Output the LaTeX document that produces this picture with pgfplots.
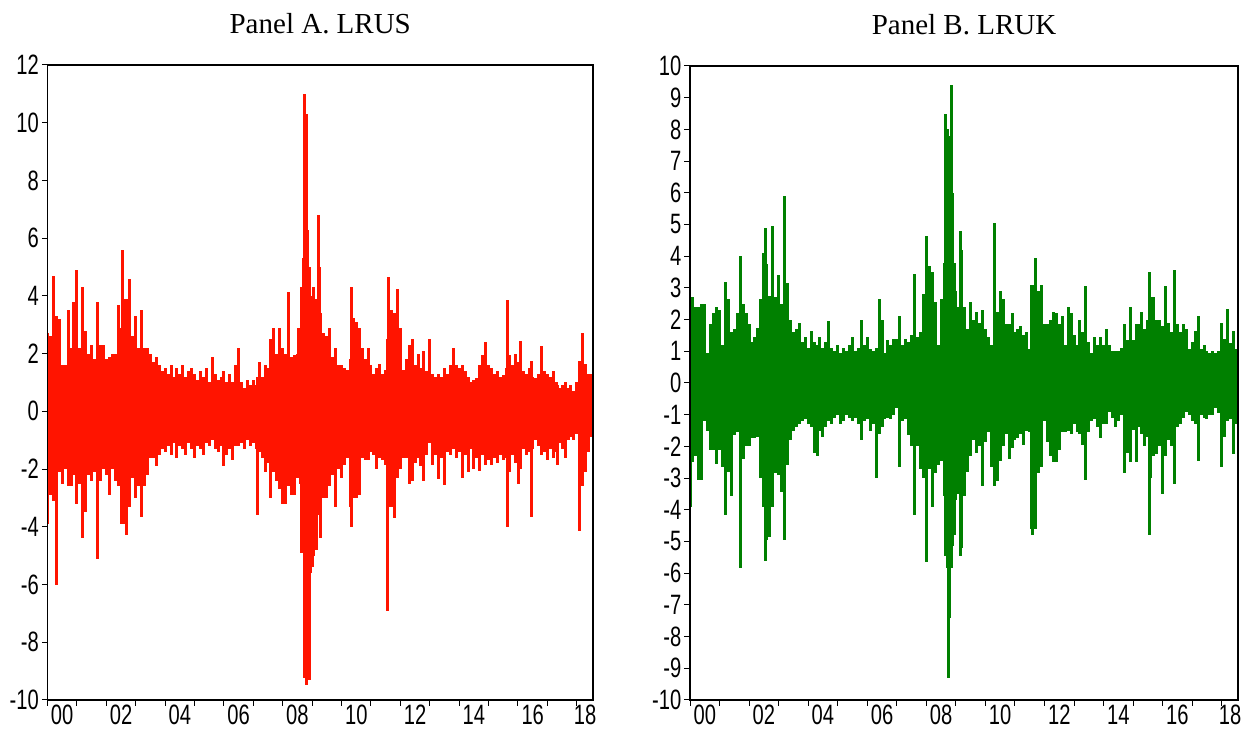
\documentclass[border=0pt]{standalone}
\usepackage{fontspec}
\setmainfont{Liberation Serif}
\setsansfont{Liberation Sans}
\usepackage{pgfplots}
\usepackage{pgfplotstable}
\pgfplotsset{compat=1.18}
\definecolor{usred}{RGB}{255,20,0}
\definecolor{ukgreen}{RGB}{0,128,0}

% daily log returns, drawn as high/low envelope per ~0.1 year
\pgfplotstableread{
x hi lo
2000.0 2.7 -3.9
2000.1 2.6 -2.9
2000.2 4.7 -3.1
2000.3 3.3 -6.0
2000.4 3.2 -2.1
2000.5 1.6 -2.5
2000.6 1.6 -2.0
2000.7 3.5 -2.6
2000.8 2.2 -2.6
2000.9 3.8 -2.2
2001.0 4.9 -3.2
2001.1 2.2 -2.5
2001.2 4.3 -4.4
2001.3 2.8 -3.5
2001.4 2.0 -2.2
2001.5 2.3 -2.4
2001.6 1.8 -2.1
2001.7 3.8 -5.1
2001.8 2.3 -2.4
2001.9 2.3 -2.0
2002.0 1.8 -2.2
2002.1 1.9 -2.9
2002.2 2.0 -2.0
2002.3 2.0 -2.4
2002.4 3.7 -2.6
2002.5 2.9 -3.9
2002.55 5.6 -3.9
2002.6 3.9 -3.9
2002.7 3.9 -4.3
2002.8 4.6 -3.3
2002.9 2.6 -2.3
2003.0 3.3 -3.0
2003.1 2.2 -2.6
2003.2 3.5 -3.65
2003.3 2.2 -2.6
2003.4 2.2 -2.2
2003.5 2.0 -1.6
2003.6 1.7 -1.6
2003.7 1.9 -1.9
2003.8 1.6 -1.5
2003.9 1.4 -1.3
2004.0 1.5 -1.4
2004.1 1.3 -1.2
2004.2 1.6 -1.5
2004.3 1.2 -1.1
2004.4 1.5 -1.6
2004.5 1.3 -1.2
2004.6 1.6 -1.3
2004.7 1.2 -1.5
2004.8 1.4 -1.1
2004.9 1.5 -1.3
2005.0 1.3 -1.6
2005.1 1.1 -1.2
2005.2 1.4 -1.3
2005.3 1.2 -1.5
2005.4 1.5 -1.1
2005.5 1.0 -1.2
2005.6 1.9 -1.0
2005.7 1.3 -1.3
2005.8 1.1 -1.4
2005.9 1.2 -1.2
2006.0 1.4 -1.9
2006.1 1.0 -1.5
2006.2 1.3 -1.3
2006.3 1.0 -1.7
2006.4 1.6 -1.2
2006.5 2.2 -1.2
2006.6 1.0 -1.1
2006.7 0.8 -1.3
2006.8 1.1 -1.0
2006.9 0.9 -1.2
2007.0 1.1 -1.1
2007.1 0.9 -1.3
2007.15 1.2 -3.6
2007.2 1.7 -1.4
2007.3 1.2 -1.6
2007.4 1.6 -2.1
2007.5 1.5 -1.8
2007.6 2.5 -3.0
2007.7 2.9 -2.1
2007.8 2.0 -2.4
2007.9 2.9 -2.7
2008.0 2.2 -3.2
2008.1 2.0 -3.2
2008.2 4.15 -2.6
2008.3 1.9 -2.9
2008.4 1.95 -2.9
2008.5 2.0 -2.3
2008.55 2.9 -2.1
2008.6 2.6 -2.5
2008.65 4.3 -4.9
2008.7 5.3 -3.5
2008.75 11.0 -9.25
2008.8 10.3 -9.47
2008.85 6.3 -6.3
2008.9 5.0 -9.3
2008.95 4.0 -5.6
2009.0 3.6 -5.4
2009.05 4.3 -5.0
2009.1 3.9 -4.2
2009.15 3.3 -4.8
2009.2 6.8 -3.6
2009.25 5.0 -3.2
2009.3 3.4 -4.4
2009.4 2.7 -3.0
2009.5 2.6 -3.0
2009.6 2.9 -2.6
2009.7 1.9 -2.2
2009.8 2.2 -3.3
2009.9 1.6 -2.0
2010.0 1.6 -2.3
2010.1 1.5 -1.85
2010.2 1.45 -1.6
2010.3 1.8 -3.3
2010.35 4.3 -4.0
2010.4 3.25 -3.0
2010.5 3.1 -3.0
2010.6 2.9 -2.9
2010.7 2.2 -1.6
2010.8 1.8 -1.7
2010.9 2.2 -1.7
2011.0 1.6 -1.4
2011.1 1.3 -1.5
2011.2 1.5 -2.0
2011.3 1.65 -1.6
2011.4 1.3 -1.7
2011.5 1.45 -1.85
2011.57 2.5 -6.9
2011.6 4.65 -3.3
2011.7 3.5 -3.3
2011.8 3.4 -3.7
2011.9 4.25 -2.3
2012.0 2.9 -2.0
2012.1 1.45 -1.6
2012.2 1.8 -1.6
2012.3 2.3 -2.5
2012.4 2.5 -2.4
2012.5 1.6 -1.8
2012.6 2.0 -1.6
2012.7 1.5 -1.9
2012.8 2.1 -2.4
2012.9 1.4 -1.5
2013.0 2.5 -1.1
2013.1 1.3 -1.85
2013.2 1.2 -1.5
2013.3 1.3 -2.35
2013.4 1.2 -1.6
2013.5 1.5 -2.55
2013.6 1.3 -1.4
2013.7 1.6 -1.5
2013.8 2.2 -1.3
2013.9 1.6 -1.6
2014.0 1.5 -1.4
2014.1 1.6 -2.3
2014.2 1.4 -1.5
2014.3 1.2 -2.1
2014.4 1.0 -1.3
2014.5 1.1 -2.0
2014.6 1.15 -1.6
2014.7 1.6 -2.05
2014.8 1.95 -1.5
2014.9 2.4 -1.85
2015.0 1.6 -1.7
2015.1 1.5 -1.85
2015.2 1.3 -1.6
2015.3 1.4 -1.8
2015.4 1.2 -1.5
2015.5 1.25 -1.7
2015.6 1.5 -1.6
2015.63 3.85 -4.0
2015.7 1.95 -2.1
2015.8 1.6 -1.5
2015.9 2.0 -1.8
2016.0 1.7 -2.5
2016.1 2.45 -2.0
2016.2 1.4 -1.3
2016.3 1.3 -1.5
2016.4 1.5 -1.4
2016.47 1.75 -3.65
2016.5 1.2 -1.3
2016.6 1.15 -1.0
2016.7 1.3 -1.2
2016.8 2.25 -1.5
2016.9 1.4 -1.4
2017.0 1.3 -1.7
2017.1 1.2 -1.3
2017.2 1.4 -1.6
2017.3 1.0 -1.4
2017.35 0.9 -1.85
2017.4 0.8 -1.1
2017.5 0.9 -1.3
2017.6 1.0 -1.6
2017.7 0.8 -1.0
2017.8 0.9 -0.9
2017.9 0.7 -1.0
2018.0 1.0 -0.8
2018.09 1.75 -4.15
2018.1 1.2 -1.5
2018.2 2.7 -2.6
2018.3 1.65 -2.1
2018.4 1.3 -1.4
2018.5 1.3 -0.9
}\lrus

\pgfplotstableread{
x hi lo
2000.0 2.0 -3.9
2000.1 2.7 -2.5
2000.2 2.4 -2.3
2000.3 2.4 -3.05
2000.4 2.5 -3.05
2000.5 2.5 -1.2
2000.6 0.95 -1.5
2000.7 1.85 -2.1
2000.8 2.2 -2.1
2000.9 2.4 -2.55
2001.0 2.3 -2.1
2001.1 1.2 -2.65
2001.2 3.2 -4.15
2001.3 2.65 -2.8
2001.4 1.6 -3.55
2001.5 1.7 -1.65
2001.6 2.2 -1.55
2001.7 4.0 -5.85
2001.8 2.5 -2.4
2001.9 2.2 -2.0
2002.0 1.85 -2.0
2002.1 1.3 -1.75
2002.2 1.45 -1.75
2002.3 1.75 -1.7
2002.4 2.65 -3.0
2002.5 4.1 -3.9
2002.55 4.9 -5.6
2002.6 3.75 -4.95
2002.7 2.75 -4.85
2002.8 4.95 -3.9
2002.9 2.7 -2.85
2003.0 3.4 -2.9
2003.1 2.5 -3.45
2003.2 5.9 -4.95
2003.3 3.15 -2.6
2003.4 2.0 -1.8
2003.5 1.6 -1.5
2003.6 1.7 -1.4
2003.7 1.9 -1.3
2003.8 1.3 -1.2
2003.9 1.45 -1.15
2004.0 1.1 -1.3
2004.1 1.65 -1.4
2004.2 1.3 -2.2
2004.3 1.2 -2.3
2004.4 1.45 -1.5
2004.5 1.1 -1.7
2004.6 1.3 -1.4
2004.7 1.95 -1.2
2004.8 1.1 -1.3
2004.9 1.0 -1.1
2005.0 1.2 -1.0
2005.1 0.95 -1.3
2005.2 1.1 -1.2
2005.3 1.0 -1.0
2005.4 1.2 -1.1
2005.5 1.45 -1.2
2005.6 1.0 -1.1
2005.7 1.1 -1.3
2005.8 2.0 -1.8
2005.9 1.2 -1.2
2006.0 1.45 -1.15
2006.1 1.07 -1.5
2006.2 1.0 -1.3
2006.3 1.1 -3.0
2006.4 2.65 -1.6
2006.5 2.0 -1.4
2006.6 0.95 -1.15
2006.7 1.35 -1.1
2006.8 1.2 -1.15
2006.9 1.4 -1.0
2007.0 1.4 -0.8
2007.1 2.1 -2.65
2007.2 1.2 -1.2
2007.3 1.4 -1.15
2007.4 1.3 -1.65
2007.5 1.5 -2.0
2007.6 3.45 -4.15
2007.7 1.45 -2.0
2007.8 1.6 -2.7
2007.9 2.8 -3.0
2008.0 4.65 -5.65
2008.1 3.7 -2.7
2008.2 3.5 -3.9
2008.3 2.55 -2.85
2008.4 1.2 -2.6
2008.5 2.65 -2.45
2008.6 3.8 -3.55
2008.65 8.5 -5.45
2008.7 8.0 -5.85
2008.75 7.8 -9.3
2008.8 7.6 -7.4
2008.85 9.4 -5.85
2008.9 6.0 -5.15
2008.95 3.8 -4.8
2009.0 2.9 -3.7
2009.1 2.4 -3.5
2009.15 4.8 -5.45
2009.2 4.2 -5.2
2009.3 2.4 -3.55
2009.4 1.7 -2.8
2009.5 2.55 -2.3
2009.6 2.0 -1.8
2009.7 2.25 -2.2
2009.8 1.9 -2.0
2009.9 2.3 -3.25
2010.0 1.7 -1.85
2010.1 1.45 -1.55
2010.2 1.2 -2.65
2010.3 5.05 -3.25
2010.4 2.25 -3.1
2010.5 2.9 -2.45
2010.6 2.65 -2.0
2010.7 1.85 -1.6
2010.8 1.85 -2.4
2010.9 2.2 -2.05
2011.0 1.6 -1.8
2011.1 1.7 -1.75
2011.2 1.8 -1.6
2011.3 1.5 -1.95
2011.4 1.6 -1.5
2011.5 1.07 -1.55
2011.55 3.1 -4.6
2011.6 3.1 -4.8
2011.7 3.95 -4.6
2011.8 2.9 -2.85
2011.9 3.1 -2.65
2012.0 1.85 -1.2
2012.1 1.85 -1.85
2012.2 2.0 -2.3
2012.3 2.25 -2.5
2012.4 2.2 -2.5
2012.5 1.85 -2.1
2012.6 2.1 -1.55
2012.7 1.2 -1.55
2012.8 2.4 -1.5
2012.9 2.2 -1.6
2013.0 1.5 -1.3
2013.1 1.2 -1.55
2013.2 2.0 -1.6
2013.3 1.6 -1.95
2013.4 3.05 -3.05
2013.5 1.3 -1.55
2013.6 0.95 -1.2
2013.7 1.45 -1.15
2013.8 1.2 -1.4
2013.9 1.45 -1.75
2014.0 1.2 -1.3
2014.1 1.7 -1.3
2014.2 1.2 -0.9
2014.3 1.0 -1.1
2014.4 1.0 -1.4
2014.5 1.0 -1.2
2014.6 1.1 -1.0
2014.7 1.85 -2.85
2014.8 1.35 -2.2
2014.9 2.4 -2.5
2015.0 1.35 -1.48
2015.1 1.85 -2.5
2015.2 1.85 -1.4
2015.3 2.25 -1.6
2015.4 1.7 -2.0
2015.5 2.0 -1.7
2015.57 3.5 -4.8
2015.6 2.7 -3.0
2015.7 2.7 -2.3
2015.8 2.0 -2.25
2015.9 2.0 -2.0
2016.0 1.8 -3.5
2016.1 3.05 -2.3
2016.2 1.9 -1.8
2016.3 1.6 -2.0
2016.4 3.55 -3.2
2016.5 1.85 -1.4
2016.6 1.6 -1.3
2016.7 1.85 -1.1
2016.8 1.7 -0.9
2016.9 1.07 -1.0
2017.0 1.3 -1.2
2017.1 1.65 -1.3
2017.2 2.1 -2.45
2017.3 1.07 -1.0
2017.4 1.2 -1.1
2017.5 1.0 -1.15
2017.6 0.95 -1.0
2017.7 1.0 -1.0
2017.8 0.95 -0.8
2017.9 1.0 -0.95
2018.0 1.9 -2.65
2018.1 1.4 -1.7
2018.2 2.35 -1.2
2018.3 1.27 -1.15
2018.4 1.65 -2.25
2018.5 1.07 -1.28
}\lruk

\pgfplotsset{
  evpanel/.style={
    scale only axis,
    anchor=south west,
    xmin=2000, xmax=2018.55,
    axis on top,
    axis line style={black, line width=0.6pt},
    tick align=outside,
    xtick pos=left, ytick pos=left,
    xtick={2000,...,2018},
    xticklabels={},
    minor x tick num=3,
    major tick length=2.8pt,
    minor tick length=1.6pt,
    every tick/.style={black, line width=0.5pt},
    extra x ticks={2000.5,2002.5,2004.5,2006.5,2008.5,2010.5,2012.5,2014.5,2016.5,2018.28},
    extra x tick labels={00,02,04,06,08,10,12,14,16,18},
    extra x tick style={major tick length=0pt},
    tick label style={font=\sffamily\fontsize{14}{14}\selectfont, xscale=0.72},
    yticklabel style={inner sep=2pt},
    xticklabel style={inner sep=2.5pt},
    title style={font=\rmfamily\fontsize{14.5}{16}\selectfont, at={(0.5,1)}, anchor=center, yshift=14.5pt},
  },
  evline/.style={ycomb, no markers, line width=1.5pt, line cap=butt},
}

\begin{document}
\begin{tikzpicture}
\useasboundingbox (0,0) rectangle (624.5pt,367pt);

\begin{axis}[evpanel,
    at={(23.75pt,17pt)}, width=272.75pt, height=317.5pt,
    ymin=-10, ymax=12,
    ytick={-10,-8,-6,-4,-2,0,2,4,6,8,10,12},
    yticklabels={-10,-8,-6,-4,-2,0,2,4,6,8,10,12},
    title={Panel A. LRUS}]
\addplot[evline, color=usred] table[x=x, y=hi] {\lrus};
\addplot[evline, color=usred] table[x=x, y=lo] {\lrus};
\end{axis}

\begin{axis}[evpanel,
    at={(345pt,17pt)}, width=274pt, height=317pt,
    ymin=-10, ymax=10,
    ytick={-10,-9,-8,-7,-6,-5,-4,-3,-2,-1,0,1,2,3,4,5,6,7,8,9,10},
    yticklabels={-10,-9,-8,-7,-6,-5,-4,-3,-2,-1,0,1,2,3,4,5,6,7,8,9,10},
    title={Panel B. LRUK}]
\addplot[evline, color=ukgreen] table[x=x, y=hi] {\lruk};
\addplot[evline, color=ukgreen] table[x=x, y=lo] {\lruk};
\end{axis}
\end{tikzpicture}
\end{document}
